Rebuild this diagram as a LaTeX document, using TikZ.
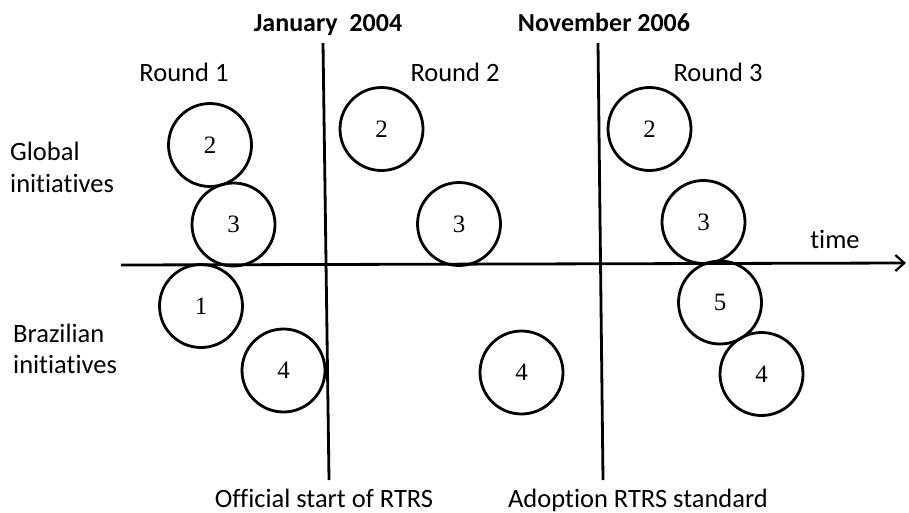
\documentclass[tikz,border=0pt]{standalone}
\usepackage{fontspec}
\setmainfont[Ligatures=NoCommon]{Carlito}
\newfontfamily\numfont{Liberation Serif}
\usetikzlibrary{arrows.meta}
\begin{document}
\begin{tikzpicture}[x=1pt,y=-1pt,
  lbl/.style={font=\fontsize{26.5}{32}\selectfont, inner sep=0pt, anchor=base},
  hdr/.style={font=\fontsize{26}{32}\selectfont\bfseries, inner sep=0pt, anchor=base},
  ini/.style={circle, draw, line width=2.8pt, minimum size=83pt, inner sep=0pt, font=\numfont\fontsize{25}{30}\selectfont},
  axisline/.style={line width=2.8pt},
]
\useasboundingbox (0,0) rectangle (909,512);
% time axis
\coordinate (axL) at (121,265);
\coordinate (axR) at (906,263);
\draw[axisline, -{Straight Barb[length=9pt,width=16pt,line width=2.2pt]}] (axL) -- (axR);
% vertical separators
\coordinate (v1t) at (323,43);
\coordinate (v1b) at (329,480);
\coordinate (v2t) at (598,43);
\coordinate (v2b) at (603,480);
\draw[axisline] (v1t) -- (v1b);
\draw[axisline] (v2t) -- (v2b);
% headers
\node[hdr] (jan) at (328,31) {January\ \ 2004};
\node[hdr] (nov) at (604,31) {November 2006};
\node[lbl] (r1) at (184,81) {Round 1};
\node[lbl] (r2) at (455,81) {Round 2};
\node[lbl] (r3) at (718,81) {Round 3};
\node[lbl, anchor=base west] (glob1) at (10,160) {Global};
\node[lbl, anchor=base west] (glob2) at (10,192) {initiatives};
\node[lbl, anchor=base west] (braz1) at (13,342) {Brazilian};
\node[lbl, anchor=base west] (braz2) at (13,373) {initiatives};
\node[lbl] (time) at (835,248) {time};
\node[lbl] (off) at (324,507) {Official start of RTRS};
\node[lbl] (adop) at (638,507) {Adoption RTRS standard};
% round 1
\node[ini] (a2) at (210,145) {2};
\node[ini] (a3) at (233.5,224.5) {3};
\node[ini] (a1) at (201,306) {1};
\node[ini] (a4) at (283.5,370.5) {4};
% round 2
\node[ini] (b2) at (381.5,129) {2};
\node[ini] (b3) at (459,224) {3};
\node[ini] (b4) at (521.5,372.5) {4};
% round 3
\node[ini] (c2) at (649.5,129) {2};
\node[ini] (c3) at (703.5,222) {3};
\node[ini] (c5) at (720,302.5) {5};
\node[ini] (c4) at (761.5,374) {4};
\end{tikzpicture}
\end{document}
